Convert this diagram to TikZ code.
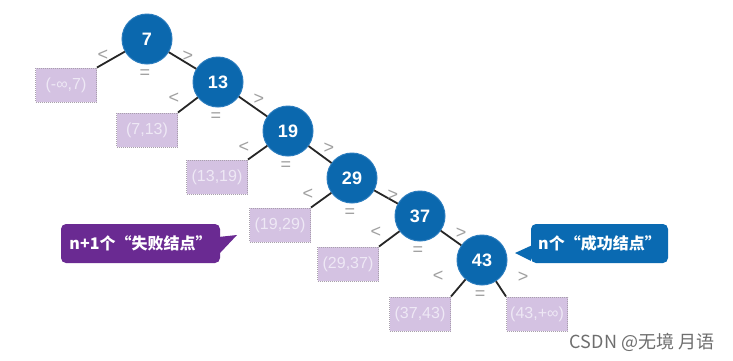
\documentclass[tikz,border=0pt]{standalone}
\usepackage{fontspec}
\setmainfont{Liberation Sans}
\newfontfamily\cjk{Noto Sans CJK SC}
\definecolor{keyblue}{HTML}{0B68AE}
\definecolor{keyedge}{HTML}{2A7CBE}
\definecolor{failfill}{HTML}{D4C2E2}
\definecolor{failtext}{HTML}{EEE8F5}
\definecolor{failedge}{HTML}{A8A0AC}
\definecolor{callpurple}{HTML}{6A2A92}
\definecolor{callblue}{HTML}{0A6AB2}
\definecolor{markgray}{HTML}{A0A0A0}
\definecolor{wmgray}{HTML}{6E6E6E}
\tikzset{
  keynode/.style={circle, fill=keyblue, draw=keyedge, line width=1pt, minimum size=50pt, inner sep=0pt, text=white, font=\fontsize{18}{18}\selectfont\bfseries},
  failnode/.style={rectangle, fill=failfill, draw=failedge, densely dotted, line width=1pt, minimum width=61pt, minimum height=34pt, inner sep=0pt, text=failtext, font=\fontsize{16}{16}\selectfont},
  treeedge/.style={draw=black!85, line width=1.8pt},
  cmpmark/.style={text=markgray, font=\fontsize{18}{18}\selectfont, inner sep=0pt},
  callbox/.style={rounded corners=5pt, inner sep=0pt, minimum height=39pt, text=white, font=\cjk\fontsize{16}{16}\selectfont\bfseries}
}
\begin{document}
\begin{tikzpicture}[x=1pt,y=-1pt]
\useasboundingbox (0,0) rectangle (733,360);
\fill[white] (0,0) rectangle (733,360);
% key nodes
\node[keynode] (k7)  at (147,39) {7};
\node[keynode] (k13) at (218,82) {13};
\node[keynode] (k19) at (288,131) {19};
\node[keynode] (k29) at (352,178) {29};
\node[keynode] (k37) at (420,216) {37};
\node[keynode] (k43) at (482,260) {43};
% failure nodes
\node[failnode] (f0) at (66,85) {(-∞,7)};
\node[failnode] (f1) at (147,130) {(7,13)};
\node[failnode] (f2) at (217,177) {(13,19)};
\node[failnode] (f3) at (280,225) {(19,29)};
\node[failnode] (f4) at (348,264) {(29,37)};
\node[failnode] (f5) at (420,314) {(37,43)};
\node[failnode] (f6) at (537,314) {(43,+∞)};
% edges
\draw[treeedge] (k7) -- (f0.north east);
\draw[treeedge] (k7) -- (k13);
\draw[treeedge] (k13) -- (f1.north east);
\draw[treeedge] (k13) -- (k19);
\draw[treeedge] (k19) -- (f2.north east);
\draw[treeedge] (k19) -- (k29);
\draw[treeedge] (k29) -- (f3.north east);
\draw[treeedge] (k29) -- (k37);
\draw[treeedge] (k37) -- (f4.north east);
\draw[treeedge] (k37) -- (k43);
\draw[treeedge] (k43) -- (f5.north east);
\draw[treeedge] (k43) -- (f6.north west);
% comparison marks
\foreach \k/\x/\y in {k7/147/39,k13/218/82,k19/288/131,k29/352/178,k37/420/216,k43/482/260}{
  \node[cmpmark] (\k lt) at (\x-44,\y+16) {<};
  \node[cmpmark] (\k gt) at (\x+41,\y+17) {>};
  \node[cmpmark] (\k eq) at (\x-2,\y+35) {=};
}
% callouts
\node[callbox, fill=callpurple, minimum width=159pt] (cfail) at (140.5,243.5) {n+1个“失败结点”};
\fill[callpurple] ([yshift=-13pt]cfail.north east) -- (237,235) -- ([yshift=-29pt]cfail.north east) -- cycle;
\node[callbox, fill=callblue, minimum width=137pt] (csucc) at (599.5,243.5) {n个“成功结点”};
\fill[callblue] ([yshift=-22pt]csucc.north west) -- (515,253) -- ([yshift=-37pt]csucc.north west) -- cycle;
% watermark
\node[text=wmgray, font=\cjk\fontsize{18}{18}\selectfont, inner sep=0pt] (wm) at (642,342) {CSDN @无境 月语};
\end{tikzpicture}
\end{document}
